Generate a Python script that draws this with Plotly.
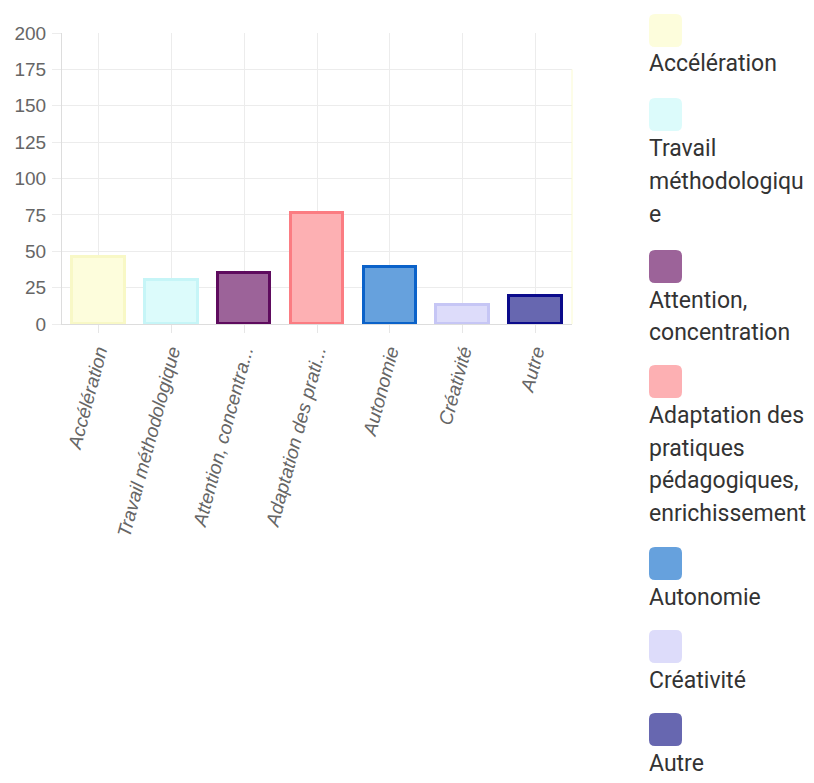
import plotly.graph_objects as go

categories = ["Accélération", "Travail méthodologique", "Attention, concentration",
              "Adaptation des pratiques pédagogiques, enrichissement",
              "Autonomie", "Créativité", "Autre"]
tick_labels = ["Accélération", "Travail méthodologique", "Attention, concentra...",
               "Adaptation des prati...", "Autonomie", "Créativité", "Autre"]
legend_lines = [["Accélération"], ["Travail", "méthodologiqu", "e"],
                ["Attention,", "concentration"],
                ["Adaptation des", "pratiques", "pédagogiques,", "enrichissement"],
                ["Autonomie"], ["Créativité"], ["Autre"]]
values = [46, 30, 35, 76, 39, 13, 19]
fill_colors = ["#fdfddc", "#dcfbfb", "#9c6399", "#fdb0b3", "#66a1dd", "#dddcfa", "#6767b0"]
line_colors = ["#f8f8c6", "#c6f5f7", "#5e0b5e", "#fb7c82", "#0b62c9", "#c6c6f5", "#0b0b8b"]
y_ticks = [0, 25, 50, 75, 100, 125, 150, 175, 200]

OFF = 8  # page body margin
W, H = 814 - OFF, 783 - OFF
L, R, T, B = 62, 572, 33, 324  # plot area in screen pixels

fig = go.Figure()
fig.add_trace(go.Bar(
    x=list(range(len(categories))), y=values,
    width=0.72,
    marker=dict(color=fill_colors, line=dict(color=line_colors, width=3)),
    hovertext=categories, showlegend=False,
))

def px2paper(x, y):
    return (x - L) / (R - L), (B - y) / (B - T)

shapes = []
annotations = []
shapes.append(dict(type="line", xref="paper", yref="y", x0=1, x1=1, y0=0, y1=175,
                   line=dict(color="#fbfbd0", width=1)))

sw_tops = [14, 98, 250, 365, 547, 630, 713]
for i, lines in enumerate(legend_lines):
    top = sw_tops[i]
    x0, x1, y0, y1, r = 649, 682, top, top + 33, 6
    pts = lambda x, y: "%.5f,%.5f" % px2paper(x, y)
    path = ("M " + pts(x0 + r, y0) + " L " + pts(x1 - r, y0) + " Q " + pts(x1, y0) + " " + pts(x1, y0 + r) +
            " L " + pts(x1, y1 - r) + " Q " + pts(x1, y1) + " " + pts(x1 - r, y1) +
            " L " + pts(x0 + r, y1) + " Q " + pts(x0, y1) + " " + pts(x0, y1 - r) +
            " L " + pts(x0, y0 + r) + " Q " + pts(x0, y0) + " " + pts(x0 + r, y0) + " Z")
    shapes.append(dict(type="path", xref="paper", yref="paper", path=path,
                       fillcolor=fill_colors[i], line=dict(width=0)))
    for j, txt in enumerate(lines):
        cy = y1 + 17 + 33 * j
        ax, ay = px2paper(647, cy)
        annotations.append(dict(text=txt, xref="paper", yref="paper", x=ax, y=ay,
                                xanchor="left", yanchor="middle", showarrow=False,
                                font=dict(family="Roboto", size=23, color="#333333")))

fig.update_layout(
    width=W, height=H,
    margin=dict(l=L - OFF, r=814 - R, t=T - OFF, b=783 - B, autoexpand=False),
    plot_bgcolor="white", paper_bgcolor="white",
    bargap=0,
    shapes=shapes, annotations=annotations,
    xaxis=dict(
        tickmode="array", tickvals=list(range(len(categories))), ticktext=tick_labels,
        range=[-0.5, len(categories) - 0.5],
        tickangle=-75, tickson="boundaries",
        ticks="outside", ticklen=8, tickcolor="#e6e6e6",
        showgrid=True, gridcolor="#ececec", gridwidth=1,
        showline=True, linecolor="#dddddd", linewidth=1,
        tickfont=dict(family="Liberation Sans", size=19, color="#666666", style="italic"),
        automargin=False, fixedrange=True,
    ),
    yaxis=dict(
        range=[0, 200], tickmode="array", tickvals=y_ticks,
        ticks="outside", ticklen=9, tickcolor="#ececec",
        showgrid=True, gridcolor="#ececec", gridwidth=1,
        showline=True, linecolor="#dddddd", linewidth=1,
        zeroline=False,
        tickfont=dict(family="Liberation Sans", size=19, color="#666666"),
        ticklabelstandoff=2,
        automargin=False, fixedrange=True,
    ),
)

fig.write_html("out.html")
